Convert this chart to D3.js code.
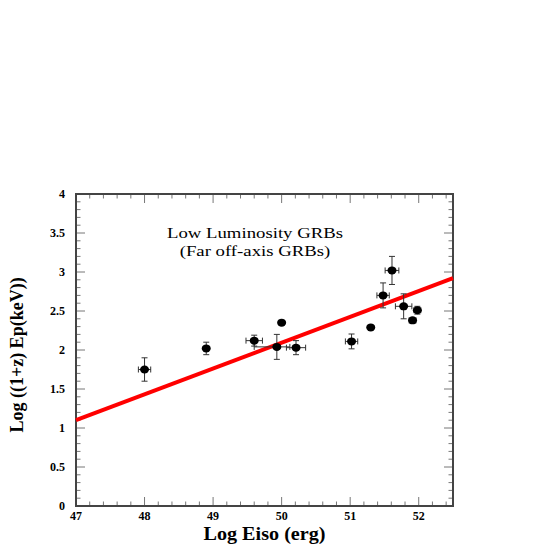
<!DOCTYPE html>
<html>
<head>
<meta charset="utf-8">
<script src="https://cdn.jsdelivr.net/npm/d3@7"></script>
<style>
  body { margin: 0; background: white; }
  svg { display: block; }
  text { font-family: "Liberation Serif", "Times New Roman", "DejaVu Serif", serif; }
</style>
</head>
<body>
<div id="chart"></div>
<script>
// data
const logEiso   = [48.00, 48.90, 49.60, 49.93, 50.00, 50.21, 51.02, 51.30, 51.48, 51.61, 51.78, 51.91, 51.98];
const logEp     = [1.75, 2.02, 2.12, 2.04, 2.35, 2.03, 2.11, 2.29, 2.70, 3.02, 2.56, 2.38, 2.51];
const xErrLow   = [0.09, 0.00, 0.12, 0.33, 0.00, 0.14, 0.09, 0.00, 0.09, 0.10, 0.12, 0.05, 0.05];
const xErrHigh  = [0.09, 0.00, 0.12, 0.19, 0.00, 0.14, 0.09, 0.00, 0.09, 0.10, 0.12, 0.05, 0.05];
const yErr      = [0.15, 0.08, 0.07, 0.16, 0.03, 0.09, 0.095, 0.00, 0.16, 0.18, 0.16, 0.03, 0.05];

const fitX = [47, 52.5];
const fitY = [1.10, 2.92];

const xTicks = [47, 48, 49, 50, 51, 52];
const yTicks = [0, 0.5, 1, 1.5, 2, 2.5, 3, 3.5, 4];
const titleLines = ["Low Luminosity GRBs", "(Far off-axis GRBs)"];

const width = 545, height = 545;
const plot = { left: 76, right: 453, top: 194, bottom: 506 };

const svg = d3.select("#chart").append("svg")
  .attr("width", width)
  .attr("height", height);

const x = d3.scaleLinear().domain([47, 52.5]).range([plot.left, plot.right]);
const y = d3.scaleLinear().domain([0, 4]).range([plot.bottom, plot.top]);

const tickColor = "#777";

// ROOT style ticks: minor + major, inside the frame on all four sides
function tickSet(values, majorStep) {
  return values.map(v => {
    const isMajor = Math.abs(v / majorStep - Math.round(v / majorStep)) < 1e-6;
    return { v: v, len: isMajor ? 9 : 4.5 };
  });
}
const xt = tickSet(d3.range(47, 52.5001, 0.2), 1);
const yt = tickSet(d3.range(0, 4.0001, 0.1), 0.5);

const ticks = svg.append("g");
// bottom and top
[[plot.bottom, -1], [plot.top, 1]].forEach(([pos, dir]) => {
  ticks.append("g").selectAll("line").data(xt).enter().append("line")
    .attr("stroke", tickColor)
    .attr("x1", d => x(d.v)).attr("x2", d => x(d.v))
    .attr("y1", pos).attr("y2", d => pos + dir * d.len);
});
// left and right
[[plot.left, 1], [plot.right, -1]].forEach(([pos, dir]) => {
  ticks.append("g").selectAll("line").data(yt).enter().append("line")
    .attr("stroke", tickColor)
    .attr("y1", d => y(d.v)).attr("y2", d => y(d.v))
    .attr("x1", pos).attr("x2", d => pos + dir * d.len);
});

// frame
svg.append("rect")
  .attr("x", plot.left)
  .attr("y", plot.top)
  .attr("width", plot.right - plot.left)
  .attr("height", plot.bottom - plot.top)
  .attr("fill", "none")
  .attr("stroke", "#444")
  .attr("stroke-width", 2);

// tick labels
svg.append("g").selectAll("text")
  .data(xTicks)
  .enter()
  .append("text")
  .attr("x", d => x(d))
  .attr("y", plot.bottom + 14)
  .attr("text-anchor", "middle")
  .attr("font-size", "12px")
  .attr("font-weight", "bold")
  .text(d => d);

svg.append("g").selectAll("text")
  .data(yTicks)
  .enter()
  .append("text")
  .attr("x", plot.left - 11)
  .attr("y", d => y(d) + 4)
  .attr("text-anchor", "end")
  .attr("font-size", "12px")
  .attr("font-weight", "bold")
  .text(d => d);

// axis titles (the source text is a little stretched sideways)
svg.append("text")
  .attr("transform", `translate(${(plot.left + plot.right) / 2}, 540) scale(1.12, 1)`)
  .attr("text-anchor", "middle")
  .attr("font-size", "18px")
  .attr("font-weight", "bold")
  .text("Log Eiso (erg)");

svg.append("text")
  .attr("transform", `translate(23, 355) rotate(-90)`)
  .attr("text-anchor", "middle")
  .attr("font-size", "18px")
  .attr("font-weight", "bold")
  .text("Log ((1+z) Ep(keV))");

// annotation
svg.append("g").selectAll("text")
  .data(titleLines)
  .enter()
  .append("text")
  .attr("transform", (d, i) => `translate(255, ${238 + i * 18}) scale(1.25, 1)`)
  .attr("text-anchor", "middle")
  .attr("font-size", "15px")
  .text(d => d);

// fit line
svg.append("line")
  .attr("x1", x(fitX[0])).attr("y1", y(fitY[0]))
  .attr("x2", x(fitX[1])).attr("y2", y(fitY[1]))
  .attr("stroke", "#ff0000")
  .attr("stroke-width", 4);

// points with error bars
const pts = logEiso.map((d, i) => ({
  x: d, y: logEp[i], xl: xErrLow[i], xh: xErrHigh[i], ye: yErr[i]
}));

const errColor = "#333";
const cap = 3;
const eb = svg.append("g");

pts.filter(d => d.xl > 0 || d.xh > 0).forEach(d => {
  eb.append("line")
    .attr("x1", x(d.x - d.xl)).attr("x2", x(d.x + d.xh))
    .attr("y1", y(d.y)).attr("y2", y(d.y))
    .attr("stroke", errColor);
  [d.x - d.xl, d.x + d.xh].forEach(v => {
    eb.append("line")
      .attr("x1", x(v)).attr("x2", x(v))
      .attr("y1", y(d.y) - cap).attr("y2", y(d.y) + cap)
      .attr("stroke", errColor);
  });
});

pts.filter(d => d.ye > 0).forEach(d => {
  eb.append("line")
    .attr("x1", x(d.x)).attr("x2", x(d.x))
    .attr("y1", y(d.y - d.ye)).attr("y2", y(d.y + d.ye))
    .attr("stroke", errColor);
  [d.y - d.ye, d.y + d.ye].forEach(v => {
    eb.append("line")
      .attr("x1", x(d.x) - cap).attr("x2", x(d.x) + cap)
      .attr("y1", y(v)).attr("y2", y(v))
      .attr("stroke", errColor);
  });
});

svg.append("g").selectAll("ellipse")
  .data(pts)
  .enter()
  .append("ellipse")
  .attr("cx", d => x(d.x))
  .attr("cy", d => y(d.y))
  .attr("rx", 4.5)
  .attr("ry", 4)
  .attr("fill", "black");
</script>
</body>
</html>
